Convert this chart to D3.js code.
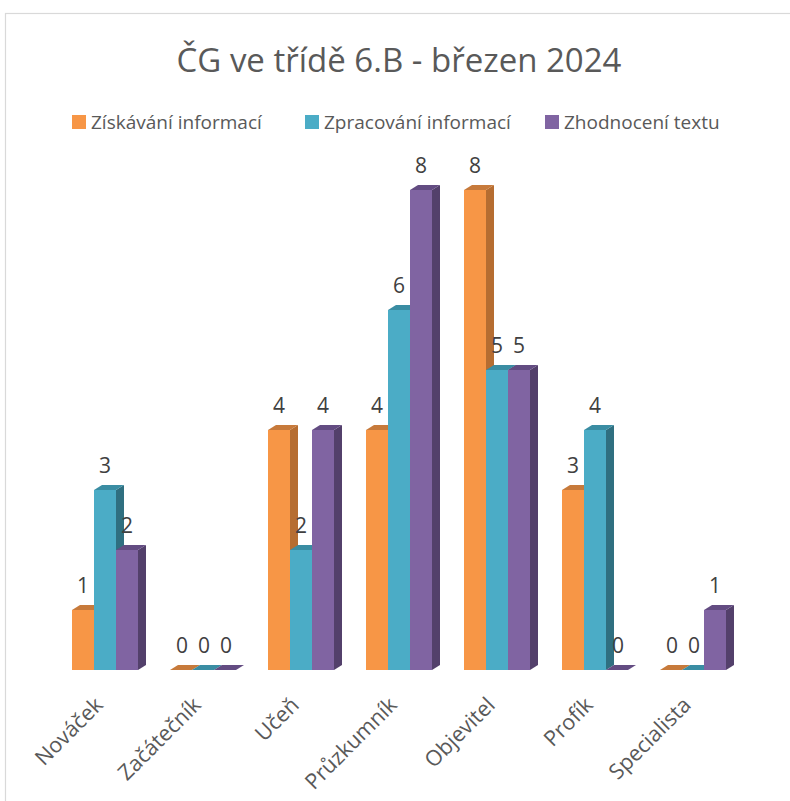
<!DOCTYPE html>
<html>
<head>
<meta charset="utf-8">
<script src="https://cdn.jsdelivr.net/npm/d3@7"></script>
<style>
  body { margin: 0; background: #fff; }
  svg { display: block; }
</style>
</head>
<body>
<svg id="chart" width="790" height="801"></svg>
<script>
// data
var categories = ["Nováček", "Začátečník", "Učeň", "Průzkumník", "Objevitel", "Profík", "Specialista"];
var seriesNames = ["Získávání informací", "Zpracování informací", "Zhodnocení textu"];
var ziskavani = [1, 0, 4, 4, 8, 3, 0];
var zpracovani = [3, 0, 2, 6, 5, 4, 0];
var zhodnoceni = [2, 0, 4, 8, 5, 0, 1];
var yTicks = [0, 8];

// colours: front, side, top
var colors = {
  "Získávání informací": ["#F79646", "#B66D31", "#C77A3B"],
  "Zpracování informací": ["#4BACC6", "#2F6F80", "#3A8DA3"],
  "Zhodnocení textu": ["#8064A2", "#53406B", "#634C82"]
};

var values = [ziskavani, zpracovani, zhodnoceni];

var svg = d3.select("#chart");
var font = "'Open Sans', 'Noto Sans', sans-serif";

// chart area border
svg.append("rect")
  .attr("x", 5.5).attr("y", 13.5)
  .attr("width", 820).attr("height", 820)
  .attr("fill", "#fff")
  .attr("stroke", "#D9D9D9")
  .attr("stroke-width", 1.2);

// title
svg.append("text")
  .attr("x", 399).attr("y", 72)
  .attr("text-anchor", "middle")
  .attr("font-family", font)
  .attr("font-size", 33)
  .attr("fill", "#595959")
  .text("ČG ve třídě 6.B - březen 2024");

// legend
var legendX = [72, 305, 545];
var legend = svg.append("g");
seriesNames.forEach(function(s, i) {
  legend.append("rect")
    .attr("x", legendX[i]).attr("y", 115)
    .attr("width", 14).attr("height", 14)
    .attr("fill", colors[s][0]);
  legend.append("text")
    .attr("x", legendX[i] + 19).attr("y", 129)
    .attr("font-family", font)
    .attr("font-size", 19)
    .attr("fill", "#595959")
    .text(s);
});

// scales
var x = d3.scaleBand().domain(categories).range([56, 742]).padding(0);
var groupW = 66;
var x1 = d3.scaleBand().domain(seriesNames).range([0, groupW]).padding(0);
var y = d3.scaleLinear().domain(d3.extent(yTicks)).range([670, 190]);

var dx = 8, dy = 5;

var bars = svg.append("g");
categories.forEach(function(c, ci) {
  var gx = x(c) + (x.bandwidth() - groupW) / 2;
  seriesNames.forEach(function(s, si) {
    var v = values[si][ci];
    var x0 = gx + x1(s), w = x1.bandwidth();
    var yt = y(v), yb = y(0);
    var col = colors[s];
    var g = bars.append("g");
    // side face
    if (v > 0) {
      g.append("path")
        .attr("d", "M" + (x0 + w) + "," + yt + "L" + (x0 + w + dx) + "," + (yt - dy) +
          "L" + (x0 + w + dx) + "," + (yb - dy) + "L" + (x0 + w) + "," + yb + "Z")
        .attr("fill", col[1]);
      // front face
      g.append("rect")
        .attr("x", x0).attr("y", yt)
        .attr("width", w).attr("height", yb - yt)
        .attr("fill", col[0]);
    }
    // top face
    g.append("path")
      .attr("d", "M" + x0 + "," + yt + "L" + (x0 + dx) + "," + (yt - dy) +
        "L" + (x0 + w + dx) + "," + (yt - dy) + "L" + (x0 + w) + "," + yt + "Z")
      .attr("fill", col[2]);
    // value label
    svg.append("text")
      .attr("x", x0 + w / 2 + (v === 0 ? 1 : 0))
      .attr("y", yt - 17)
      .attr("text-anchor", "middle")
      .attr("font-family", font)
      .attr("font-size", 21)
      .attr("fill", "#404040")
      .text(v);
  });
});

// category axis labels
var xAxis = d3.axisBottom(x).tickSize(0).tickPadding(0);
var ax = svg.append("g").call(xAxis);
ax.select(".domain").remove();
ax.selectAll(".tick").attr("transform", null);
ax.selectAll(".tick text")
  .attr("font-family", font)
  .attr("font-size", 21.5)
  .attr("fill", "#595959")
  .attr("text-anchor", "end")
  .attr("dy", "0.35em")
  .attr("transform", function(d) {
    return "translate(" + (x(d) + x.bandwidth() / 2 - 6) + ",701) rotate(-45)";
  })
  .attr("x", 0).attr("y", 0);
</script>
</body>
</html>
